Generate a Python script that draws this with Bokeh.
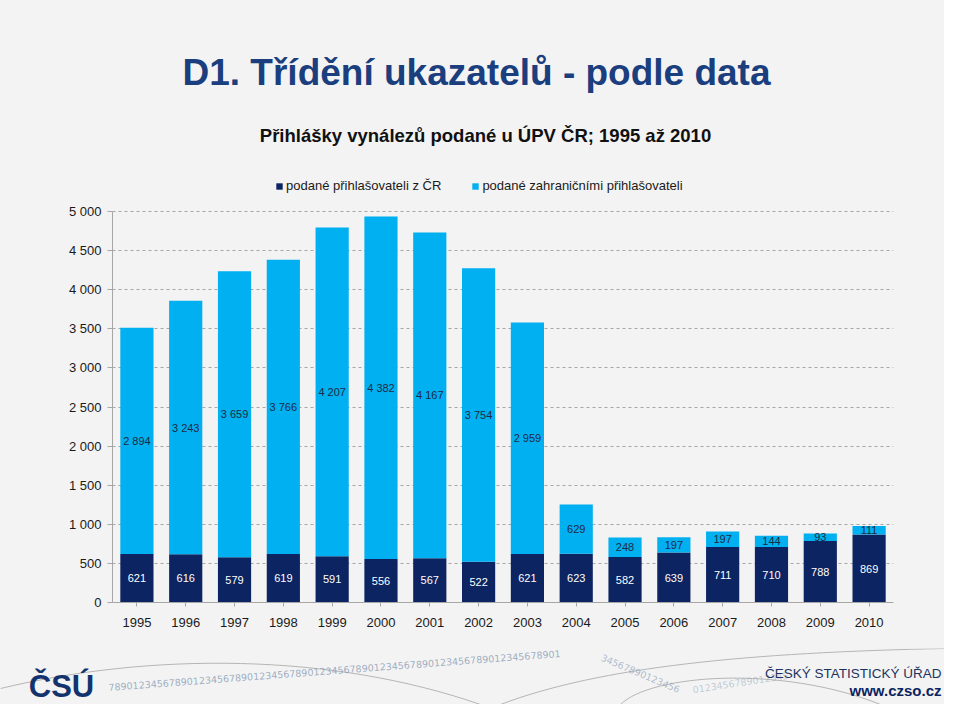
from bokeh.plotting import figure
from bokeh.layouts import column
from bokeh.models import (ColumnDataSource, LabelSet, Legend, LegendItem,
                          FixedTicker, CustomJSTickFormatter, Range1d, FactorRange)
from bokeh.core.properties import value
from bokeh.embed import file_html
from bokeh.resources import INLINE

years = ["1995", "1996", "1997", "1998", "1999", "2000", "2001", "2002",
         "2003", "2004", "2005", "2006", "2007", "2008", "2009", "2010"]
domestic = [621, 616, 579, 619, 591, 556, 567, 522, 621, 623, 582, 639, 711, 710, 788, 869]
foreign = [2894, 3243, 3659, 3766, 4207, 4382, 4167, 3754, 2959, 629, 248, 197, 197, 144, 93, 111]
y_ticks = [0, 500, 1000, 1500, 2000, 2500, 3000, 3500, 4000, 4500, 5000]

series_names = ["podané přihlašovateli z ČR", "podané zahraničními přihlašovateli"]
title_text = "D1. Třídění ukazatelů - podle data"
subtitle_text = "Přihlášky vynálezů podané u ÚPV ČR; 1995 až 2010"
org_name = "ČESKÝ STATISTICKÝ ÚŘAD"
org_web = "www.czso.cz"
org_logo = "ČSÚ"

def fmt(v):
    return f"{v:,}".replace(",", " ")

total = [d + f for d, f in zip(domestic, foreign)]
src = ColumnDataSource(dict(
    year=years, domestic=domestic, foreign=foreign, total=total,
    dom_mid=[d / 2 for d in domestic],
    for_mid=[d + f / 2 for d, f in zip(domestic, foreign)],
    dom_txt=[fmt(v) for v in domestic],
    for_txt=[fmt(v) for v in foreign],
))

BG = "#F3F3F3"
DARK = "#0C2461"
LIGHT = "#00B0F0"
FONT = "Liberation Sans"
W = 944
TOP_H, MAIN_H, FOOT_H = 158, 490, 56
FH = 430

def no_align(f):
    try:
        f.frame_align = False
    except Exception:
        pass

def blank(h):
    f = figure(width=W, height=h, x_range=Range1d(0, W), y_range=Range1d(h, 0),
               x_axis_type=None, y_axis_type=None, output_backend="svg",
               toolbar_location=None, min_border=0)
    f.min_border_left = 0
    f.min_border_right = 0
    f.min_border_top = 0
    f.min_border_bottom = 0
    f.background_fill_color = BG
    f.border_fill_color = BG
    f.outline_line_color = None
    f.grid.grid_line_color = None
    no_align(f)
    return f

# ---- title area ----
top = blank(TOP_H)
top.text(x=[476], y=[72], text=[title_text], text_font=value(FONT),
         text_font_style="bold", text_font_size="37px", text_color="#1A3E7E",
         text_align="center", text_baseline="middle")
top.text(x=[485], y=[135], text=[subtitle_text], text_font=value(FONT),
         text_font_style="bold", text_font_size="18.5px", text_color="#111111",
         text_align="center", text_baseline="middle")

# ---- main chart ----
p = figure(width=W, height=MAIN_H, x_range=FactorRange(*years, range_padding=0),
           y_range=Range1d(0, 5500), output_backend="svg", toolbar_location=None,
           min_border_left=112, min_border_right=51, min_border_top=MAIN_H - FH - 46,
           min_border_bottom=46)
p.background_fill_color = BG
p.border_fill_color = BG
p.outline_line_color = None
no_align(p)

r1 = p.vbar(x="year", top="domestic", bottom=0, width=0.68, source=src,
            fill_color=DARK, line_color=None)
r2 = p.vbar(x="year", top="total", bottom="domestic", width=0.68, source=src,
            fill_color=LIGHT, line_color=None)

p.yaxis.ticker = FixedTicker(ticks=y_ticks)
p.yaxis.bounds = (0, 5000)
p.yaxis.formatter = CustomJSTickFormatter(code="""
    return tick.toString().replace(/\\B(?=(\\d{3})+(?!\\d))/g, ' ');
""")
p.yaxis.axis_line_color = "#A6A6A6"
p.yaxis.major_tick_line_color = "#A6A6A6"
p.yaxis.major_tick_out = 5
p.yaxis.major_tick_in = 0
p.yaxis.minor_tick_line_color = None
p.yaxis.major_label_text_font = FONT
p.yaxis.major_label_text_font_size = "13px"
p.yaxis.major_label_text_color = "#1A1A1A"
p.yaxis.major_label_standoff = 6

p.xaxis.axis_line_color = "#A6A6A6"
p.xaxis.major_tick_line_color = "#A6A6A6"
p.xaxis.major_tick_out = 4
p.xaxis.major_tick_in = 0
p.xaxis.major_label_text_font = FONT
p.xaxis.major_label_text_font_size = "13px"
p.xaxis.major_label_text_color = "#1A1A1A"
p.xaxis.major_label_standoff = 11

p.xgrid.grid_line_color = None
p.ygrid.grid_line_color = "#A6A6A6"
p.ygrid.grid_line_dash = "3 3"
p.ygrid.grid_line_width = 1
p.ygrid.ticker = FixedTicker(ticks=y_ticks[1:])

p.add_layout(LabelSet(x="year", y="dom_mid", text="dom_txt", source=src,
                      text_align="center", text_baseline="middle",
                      text_font=value(FONT), text_font_size="11px", text_color="white"))
p.add_layout(LabelSet(x="year", y="for_mid", text="for_txt", source=src,
                      text_align="center", text_baseline="middle",
                      text_font=value(FONT), text_font_size="11px", text_color="#1F2A44"))

legend = Legend(items=[LegendItem(label=series_names[0], renderers=[r1]),
                       LegendItem(label=series_names[1], renderers=[r2])],
                orientation="horizontal", location=(163, FH - 21),
                background_fill_alpha=0, border_line_color=None,
                label_text_font=FONT, label_text_font_size="13px",
                label_text_color="#1A1A1A", glyph_width=8, glyph_height=8,
                spacing=30, label_standoff=3, padding=0, margin=0)
p.add_layout(legend, "center")

# ---- footer ----
foot = blank(FOOT_H)
foot.bezier(x0=[0, 500, 620], y0=[40, 56, 56], x1=[480, 944, 880], y1=[56, 0, 56],
            cx0=[150, 600, 650], cy0=[4, 18, 26], cx1=[330, 750, 780], cy1=[4, 4, 16],
            line_color="#B5B5B5", line_width=1)
foot.text(x=[334, 640, 740], y=[22, 25, 34], angle=[0.075, -0.40, 0.15],
          text=["789012345678901234567890123456789012345678901234567890123456789012345678901",
                "34567890123456",
                "0123456789012345"],
          text_font=value("DejaVu Sans"), text_font_size="9.5px", text_color="#7F93B0",
          text_alpha=[0.75, 0.6, 0.45], text_align="center", text_baseline="middle")
foot.text(x=[61], y=[38], text=[org_logo], text_font=value(FONT), text_font_style="bold",
          text_font_size="31px", text_color="#13336E", text_align="center",
          text_baseline="alphabetic")
foot.text(x=[941], y=[25], text=[org_name], text_font=value(FONT),
          text_font_size="13.5px", text_color="#1D3461", text_align="right",
          text_baseline="middle")
foot.text(x=[941], y=[42], text=[org_web], text_font=value(FONT), text_font_style="bold",
          text_font_size="15px", text_color="#0C2461", text_align="right",
          text_baseline="middle")

layout = column(top, p, foot, spacing=0)
layout.background = BG
open("out.html", "w").write(file_html(layout, INLINE))
